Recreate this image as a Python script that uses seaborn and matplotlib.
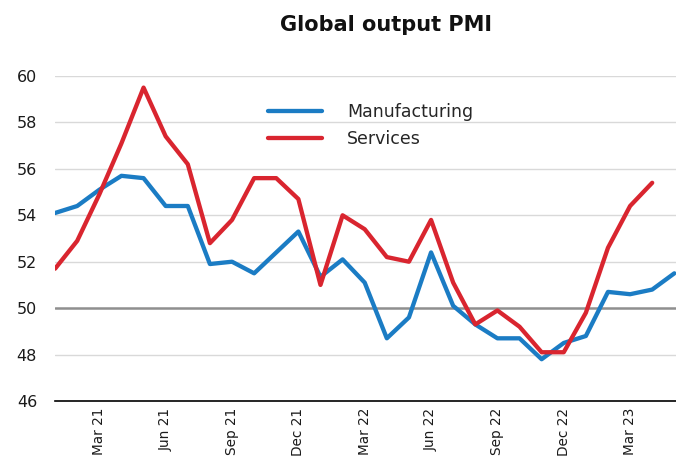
import matplotlib
matplotlib.use("Agg")
import matplotlib.pyplot as plt
import seaborn as sns
import pandas as pd
import numpy as np

months = ['Jan 21', 'Feb 21', 'Mar 21', 'Apr 21', 'May 21', 'Jun 21', 'Jul 21', 'Aug 21',
          'Sep 21', 'Oct 21', 'Nov 21', 'Dec 21', 'Jan 22', 'Feb 22', 'Mar 22', 'Apr 22',
          'May 22', 'Jun 22', 'Jul 22', 'Aug 22', 'Sep 22', 'Oct 22', 'Nov 22', 'Dec 22',
          'Jan 23', 'Feb 23', 'Mar 23', 'Apr 23', 'May 23']
manufacturing = [54.1, 54.4, 55.1, 55.7, 55.6, 54.4, 54.4, 51.9, 52.0, 51.5, 52.4, 53.3,
                 51.35, 52.1, 51.1, 48.7, 49.6, 52.4, 50.1, 49.3, 48.7, 48.7, 47.8, 48.5,
                 48.8, 50.7, 50.6, 50.8, 51.5]
services = [51.7, 52.9, 54.9, 57.1, 59.5, 57.4, 56.2, 52.8, 53.8, 55.6, 55.6, 54.7,
            51.0, 54.0, 53.4, 52.2, 52.0, 53.8, 51.1, 49.3, 49.9, 49.2, 48.1, 48.1,
            49.8, 52.6, 54.4, 55.4]
series_names = ['Manufacturing', 'Services']
series_colors = ['#1b7cc4', '#d9252f']
label_months = ['Mar 21', 'Jun 21', 'Sep 21', 'Dec 21', 'Mar 22', 'Jun 22', 'Sep 22',
                'Dec 22', 'Mar 23']
y_ticks = [46, 48, 50, 52, 54, 56, 58, 60]
title = 'Global output PMI'

df = pd.concat([
    pd.DataFrame({'idx': np.arange(len(manufacturing)), 'value': manufacturing,
                  'series': series_names[0]}),
    pd.DataFrame({'idx': np.arange(len(services)), 'value': services,
                  'series': series_names[1]}),
], ignore_index=True)

sns.set_theme(style='white')
plt.rcParams['font.family'] = ['DejaVu Sans']

W, H = 676, 459
fig = plt.figure(figsize=(W / 100, H / 100), dpi=100)
ax_left, ax_right = 55.1, 676
ax_top, ax_bot = 76, 401
ax = fig.add_axes([ax_left / W, 1 - ax_bot / H, (ax_right - ax_left) / W, (ax_bot - ax_top) / H])

px = 22.115
ax.set_xlim(0, (ax_right - ax_left) / px)
ax.set_ylim(46, 60)

# gridlines
for v in y_ticks:
    if v in (46, 50):
        continue
    ax.axhline(v, color='#d9d9d9', lw=1.0, zorder=0)
ax.axhline(50, color='#8f8f8f', lw=1.8, zorder=1)

sns.lineplot(data=df, x='idx', y='value', hue='series', palette=series_colors,
             linewidth=3.1, ax=ax, legend=True, zorder=3)

for s in ['top', 'right', 'left']:
    ax.spines[s].set_visible(False)
ax.spines['bottom'].set_color('black')
ax.spines['bottom'].set_linewidth(1.2)

ax.set_yticks(y_ticks)
ax.set_yticklabels([str(v) for v in y_ticks], fontsize=11.5, color='#1a1a1a')
ax.tick_params(axis='y', length=0, pad=13)

pos = [months.index(m) for m in label_months]
ax.set_xticks(pos)
ax.set_xticklabels(label_months, rotation=90, fontsize=9.8, color='#1a1a1a', va='top')
ax.tick_params(axis='x', which='major', length=0, pad=5)
ax.set_xticks(np.arange(1.5, len(months) - 1, 1.0), minor=True)
ax.tick_params(axis='x', which='minor', direction='in', length=5.5, width=1.0, color='#333333')
ax.set_xlabel('')
ax.set_ylabel('')
ax.grid(False)

handles, labels = ax.get_legend_handles_labels()
ax.legend(handles, labels, loc='upper left', frameon=False, fontsize=12.5,
          handlelength=3.1, handletextpad=1.45, labelspacing=0.5, borderpad=0,
          borderaxespad=0, bbox_to_anchor=(268 / W, 1 - 103 / H),
          bbox_transform=fig.transFigure)

fig.text(386 / W, 1 - 25 / H, title, ha='center', va='center', fontsize=15,
         fontweight='bold', color='#111111')

fig.savefig('out.png', dpi=100)
